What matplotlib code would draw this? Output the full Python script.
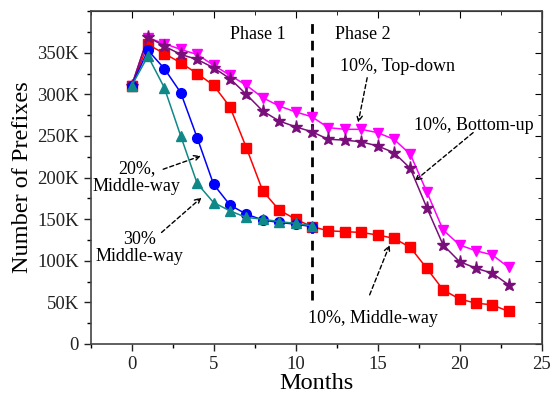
import matplotlib
matplotlib.use('Agg')
import matplotlib.pyplot as plt
from matplotlib.ticker import MultipleLocator, FuncFormatter

plt.rcParams['font.family'] = ['Liberation Serif', 'DejaVu Serif']

# values in thousands of prefixes, month index = position
months = list(range(24))
top_down = [310, 368, 361, 354, 348, 335, 323, 311, 296, 286, 279, 273,
            260, 258, 258, 254, 246, 228, 183, 137, 119, 112, 107, 92]
bottom_up = [310, 369, 358, 348, 342, 332, 319, 300, 280, 268, 261, 255,
             246, 245, 243, 238, 230, 211, 164, 119, 99, 91, 85, 71]
middle_10 = [310, 360, 349, 338, 325, 311, 285, 236, 184, 161, 150, 141,
             136, 135, 134, 131, 127, 116, 91, 65, 54, 49, 47, 39]
months_short = list(range(12))
middle_20 = [310, 353, 331, 302, 248, 192, 167, 156, 149, 146, 144, 141]
middle_30 = [310, 346, 308, 250, 193, 170, 160, 152, 150, 147, 145, 142]

phase_split = 11

fig = plt.figure(figsize=(5.52, 3.99), dpi=100)
ax = fig.add_axes([0.164, 0.138, 0.817, 0.834])

lw = 1.1
ax.plot(months, top_down, color='#ff00ff', marker='v', ms=7.5, lw=lw, zorder=3)
ax.plot(months, bottom_up, color='#7a0e7a', marker='*', ms=9.5, lw=lw, zorder=4)
ax.plot(months, middle_10, color='#ff0000', marker='s', ms=6.5, lw=lw, zorder=3)
ax.plot(months_short, middle_20, color='#0000ff', marker='o', ms=7, lw=lw, zorder=4)
ax.plot(months_short, middle_30, color='#118888', marker='^', ms=7.5, lw=lw, zorder=5)

ax.plot([phase_split, phase_split], [53, 392], color='black', lw=2, ls=(0, (3.5, 2.5)), zorder=2)

ax.set_xlim(-2.5, 25)
ax.set_ylim(0, 400)
ax.set_yticks(range(0, 351, 50))
ax.yaxis.set_minor_locator(MultipleLocator(25))
ax.xaxis.set_major_locator(MultipleLocator(5))
ax.xaxis.set_minor_locator(MultipleLocator(2.5))
ax.yaxis.set_major_formatter(FuncFormatter(lambda v, p: '0' if v == 0 else '%dK' % v))

ax.tick_params(which='major', direction='out', length=5, width=1, labelsize=13.5, colors='#222222')
ax.tick_params(which='minor', direction='out', length=3, width=1)
for sp in ax.spines.values():
    sp.set_color('#444444')
    sp.set_linewidth(1.2)

top = ax.secondary_xaxis('top')
top.xaxis.set_major_locator(MultipleLocator(5))
top.xaxis.set_minor_locator(MultipleLocator(2.5))
top.tick_params(which='major', direction='in', length=5, labeltop=False)
top.tick_params(which='minor', direction='in', length=3)
right = ax.secondary_yaxis('right')
right.set_yticks(range(0, 351, 50))
right.yaxis.set_minor_locator(MultipleLocator(25))
right.tick_params(which='major', direction='in', length=5, labelright=False)
right.tick_params(which='minor', direction='in', length=3)

ax.set_xlabel('Months', fontsize=17.5, labelpad=0)
ax.set_ylabel('Number of Prefixes', fontsize=17.5, labelpad=3)

fs = 13
ax.text(7.7, 372, 'Phase 1', fontsize=fs, ha='center', va='center')
ax.text(14.1, 372, 'Phase 2', fontsize=fs, ha='center', va='center')
ax.text(16.2, 333, '10%, Top-down', fontsize=fs, ha='center', va='center')
ax.text(20.9, 263, '10%, Bottom-up', fontsize=fs, ha='center', va='center')
ax.text(14.75, 30, '10%, Middle-way', fontsize=fs, ha='center', va='center')
ax.text(0.3, 200, '20%,\nMiddle-way', fontsize=fs, ha='center', va='center', linespacing=1.0)
ax.text(0.5, 115, '30%\nMiddle-way', fontsize=fs, ha='center', va='center', linespacing=1.0)

arrow = dict(arrowstyle='->', color='black', lw=1, ls=(0, (3, 2)), shrinkA=0, shrinkB=0)
ax.annotate('', xy=(13.82, 266), xytext=(14.37, 320), arrowprops=arrow)
ax.annotate('', xy=(17.27, 196), xytext=(20.83, 254), arrowprops=arrow)
ax.annotate('', xy=(15.74, 119), xytext=(14.52, 59), arrowprops=arrow)
ax.annotate('', xy=(4.23, 226), xytext=(1.93, 210), arrowprops=arrow)
ax.annotate('', xy=(4.27, 176), xytext=(1.83, 134), arrowprops=arrow)

plt.savefig('out.png', dpi=100)
plt.close()
